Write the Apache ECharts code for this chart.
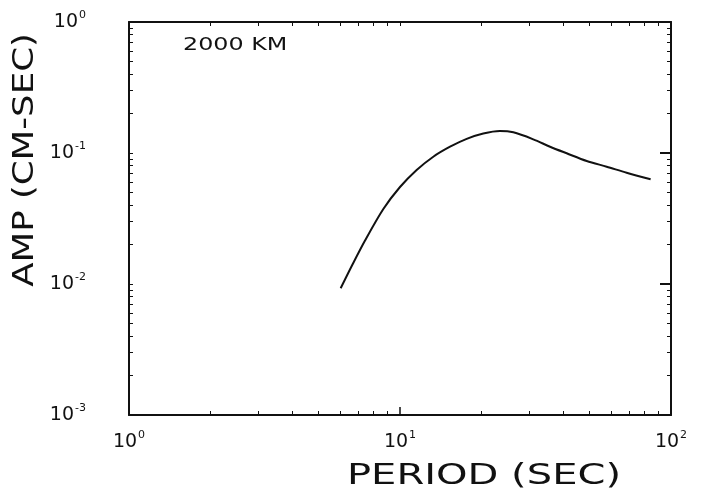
<!DOCTYPE html>
<html><head><meta charset="utf-8">
<script src="https://cdn.jsdelivr.net/npm/echarts@6/dist/echarts.min.js"></script>
<style>html,body{margin:0;padding:0;background:#fff}#c{width:701px;height:497px}</style>
</head><body><div id="c"></div>
<script>
const period = [6.04, 6.65, 7.43, 8.68, 10, 11.52, 13.27, 15.3, 17.62, 20.29, 23.38, 26.2, 31.04, 35.78, 41.22, 48.86, 57.9, 68.6, 84.1];
const amp = [0.00927, 0.01384, 0.02148, 0.03736, 0.0550, 0.0742, 0.0937, 0.1117, 0.1283, 0.1409, 0.1472, 0.1438, 0.1272, 0.1117, 0.0995, 0.0869, 0.0786, 0.0707, 0.063];
const xMajor = [1, 10, 100];
const xMinor = [2, 3, 4, 5, 6, 7, 8, 9, 20, 30, 40, 50, 60, 70, 80, 90];
const yMajor = [0.001, 0.01, 0.1, 1];
const yMinor = [0.002, 0.003, 0.004, 0.005, 0.006, 0.007, 0.008, 0.009,
                0.02, 0.03, 0.04, 0.05, 0.06, 0.07, 0.08, 0.09,
                0.2, 0.3, 0.4, 0.5, 0.6, 0.7, 0.8, 0.9];
const panelLabel = '2000 KM';
const xTitle = 'PERIOD (SEC)';
const yTitle = 'AMP (CM-SEC)';

const FONT = 'DejaVu Sans';
const ink = '#111';
function expLabel(v) {
  const e = Math.round(Math.log10(v));
  return '{b|10}{s|' + e + '}';
}
const rich = {
  b: {fontFamily: FONT, fontSize: 19, color: ink},
  s: {fontFamily: FONT, fontSize: 11, color: ink, padding: [0, 0, 13, 1]}
};
const lineStyle = {color: ink, width: 2};

function xAx(pos, opts) {
  return Object.assign({
    type: 'log', logBase: 10, min: 1, max: 100, position: pos, gridIndex: 0,
    splitLine: {show: false}, axisLabel: {show: false},
    axisLine: {show: false, lineStyle: lineStyle}
  }, opts);
}
function yAx(pos, opts) {
  return Object.assign({
    type: 'log', logBase: 10, min: 0.001, max: 1, position: pos, gridIndex: 0,
    splitLine: {show: false}, axisLabel: {show: false},
    axisLine: {show: false, lineStyle: lineStyle}
  }, opts);
}

const chart = echarts.init(document.getElementById('c'), null, {renderer: 'canvas'});
chart.setOption({
  backgroundColor: '#fff',
  animation: false,
  grid: {left: 129, right: 30, top: 22, bottom: 82, containLabel: false},
  xAxis: [
    xAx('bottom', {
      axisLine: {show: true, onZero: false, lineStyle: lineStyle},
      axisTick: {show: true, inside: true, length: 8, customValues: xMajor, lineStyle: {color: ink, width: 1.5}},
      axisLabel: {show: true, customValues: xMajor, margin: 15, formatter: expLabel, rich: rich}
    }),
    xAx('bottom', {
      axisTick: {show: true, inside: true, length: 4, customValues: xMinor, lineStyle: {color: ink, width: 1}}
    }),
    xAx('top', {
      axisLine: {show: true, onZero: false, lineStyle: lineStyle},
      axisTick: {show: true, inside: true, length: 4, customValues: xMinor.concat(xMajor), lineStyle: {color: ink, width: 1}}
    })
  ],
  yAxis: [
    yAx('left', {
      axisLine: {show: true, onZero: false, lineStyle: lineStyle},
      axisTick: {show: true, inside: true, length: 4, customValues: yMinor.concat(yMajor), lineStyle: {color: ink, width: 1}},
      axisLabel: {show: true, customValues: yMajor, margin: 43, formatter: expLabel, rich: rich}
    }),
    yAx('right', {
      axisLine: {show: true, onZero: false, lineStyle: lineStyle},
      axisTick: {show: true, inside: true, length: 11, customValues: yMajor, lineStyle: {color: ink, width: 2}}
    }),
    yAx('right', {
      axisTick: {show: true, inside: true, length: 4, customValues: yMinor, lineStyle: {color: ink, width: 1}}
    })
  ],
  graphic: [
    {type: 'text', x: 183, y: 37, scaleX: 1.4,
     style: {text: panelLabel, font: '17px "DejaVu Sans"', fill: ink}},
    {type: 'text', x: 484, y: 477, scaleX: 1.43,
     style: {text: xTitle, font: '28px "DejaVu Sans"', fill: ink, align: 'center', verticalAlign: 'middle'}},
    {type: 'text', x: 26, y: 160, rotation: Math.PI / 2, scaleX: 1.27,
     style: {text: yTitle, font: '28px "DejaVu Sans"', fill: ink, align: 'center', verticalAlign: 'middle'}}
  ],
  series: [{
    type: 'line', xAxisIndex: 0, yAxisIndex: 0,
    data: period.map((p, i) => [p, amp[i]]),
    smooth: 0.3, showSymbol: false, symbol: 'none',
    lineStyle: {color: ink, width: 2}
  }]
});
</script></body></html>
